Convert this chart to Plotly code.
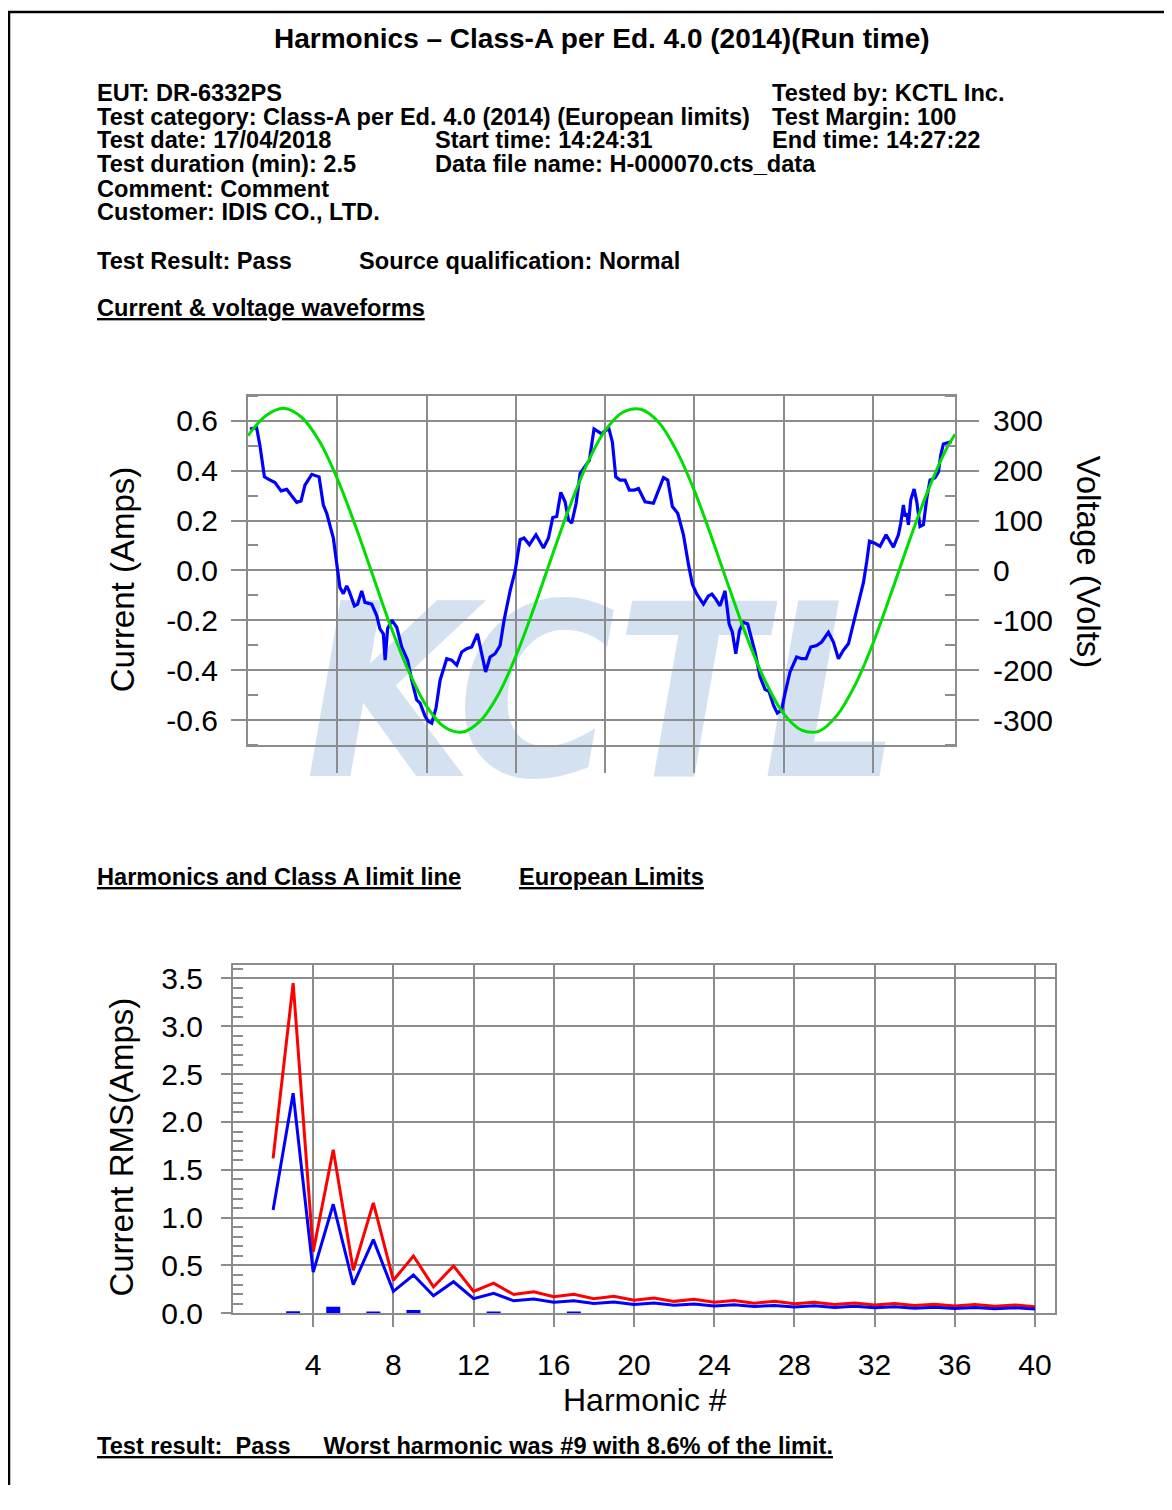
import plotly.graph_objects as go

# The page body keeps its default 8px margin, so the figure is 16px smaller
# than the window and all reference pixel positions are shifted by 8px.
PAGE_W, PAGE_H = 1172, 1510
OFF = 8
W, H = PAGE_W - 2 * OFF, PAGE_H - 2 * OFF


def px(x):
    return (x - OFF) / W


def py(y):
    return 1 - (y - OFF) / H


# ---------------- Waveform data ----------------
CURRENT_T = [0.11, 0.48, 0.67, 0.92, 1.14, 1.51, 1.85, 2.17, 2.41, 2.73, 2.97, 3.19, 3.57, 3.98,
             4.22, 4.41, 4.78, 5.02, 5.15, 5.34, 5.53, 5.66, 5.96, 6.14, 6.37, 6.55, 6.93, 7.21,
             7.39, 7.58, 7.68, 7.82, 8.05, 8.33, 8.61, 8.94, 9.17, 9.45, 9.64, 9.92, 10.1, 10.29,
             10.53, 10.76, 11.13, 11.41, 11.69, 11.97, 12.25, 12.53, 12.85, 13.09, 13.31, 13.56,
             13.84, 14.12, 14.34, 14.68, 14.96, 15.24, 15.46, 15.76, 16.13, 16.55, 16.83, 17.07,
             17.29, 17.52, 17.76, 17.95, 18.13, 18.38, 18.6, 18.92, 19.12, 19.38, 19.63, 19.81,
             20.0, 20.22, 20.41, 20.6, 20.84, 21.12, 21.36, 21.64, 21.87, 22.24, 22.71, 23.03,
             23.27, 23.51, 23.77, 24.07, 24.39, 24.67, 24.89, 25.14, 25.51, 25.79, 25.98, 26.2,
             26.44, 26.72, 26.95, 27.13, 27.32, 27.53, 27.75, 27.99, 28.22, 28.4, 28.68, 28.96,
             29.19, 29.43, 29.65, 29.89, 30.08, 30.36, 30.73, 31.01, 31.26, 31.52, 31.85, 32.13,
             32.51, 32.79, 33.07, 33.35, 33.63, 33.91, 34.19, 34.47, 34.66, 34.81, 35.07, 35.4,
             35.74, 36.15, 36.43, 36.56, 36.71, 36.8, 36.9, 36.99, 37.12, 37.31, 37.46, 37.64,
             37.83, 38.02, 38.2, 38.48, 38.67, 38.8, 38.95, 39.23, 39.42]
CURRENT_A = [0.567, 0.573, 0.50, 0.375, 0.366, 0.352, 0.319, 0.325, 0.302, 0.273, 0.278, 0.342,
             0.385, 0.375, 0.262, 0.229, 0.130, -0.003, -0.069, -0.093, -0.062, -0.082, -0.142,
             -0.135, -0.082, -0.128, -0.135, -0.181, -0.234, -0.254, -0.360, -0.234, -0.199,
             -0.228, -0.307, -0.360, -0.440, -0.519, -0.532, -0.585, -0.605, -0.612, -0.552,
             -0.44, -0.354, -0.360, -0.380, -0.327, -0.314, -0.307, -0.254, -0.334, -0.407,
             -0.347, -0.334, -0.301, -0.201, -0.082, -0.003, 0.123, 0.130, 0.103, 0.143, 0.090,
             0.130, 0.212, 0.216, 0.313, 0.275, 0.203, 0.189, 0.269, 0.388, 0.421, 0.441, 0.567,
             0.556, 0.547, 0.56, 0.567, 0.514, 0.375, 0.362, 0.362, 0.322, 0.322, 0.328, 0.275,
             0.269, 0.328, 0.372, 0.362, 0.256, 0.229, 0.143, 0.024, -0.056, -0.095, -0.135,
             -0.102, -0.095, -0.115, -0.142, -0.082, -0.215, -0.248, -0.334, -0.241, -0.208,
             -0.215, -0.281, -0.327, -0.426, -0.477, -0.486, -0.54, -0.572, -0.559, -0.493,
             -0.407, -0.347, -0.354, -0.354, -0.307, -0.301, -0.287, -0.248, -0.287, -0.354,
             -0.32, -0.294, -0.215, -0.135, -0.049, 0.037, 0.117, 0.110, 0.097, 0.143, 0.093,
             0.143, 0.189, 0.262, 0.216, 0.229, 0.183, 0.282, 0.326, 0.275, 0.176, 0.183, 0.289,
             0.362, 0.371, 0.395, 0.461, 0.507, 0.514, 0.517]

VOLT_T = [0, 1, 2, 3, 4, 5, 6, 7, 8, 9, 10, 11, 12, 13, 14, 15, 16, 17, 18, 19, 20,
          21, 22, 23, 24, 25, 26, 27, 28, 29, 30, 31, 32, 33, 34, 35, 36, 37, 38, 39, 39.6]
VOLT_V = [270, 310, 325, 307, 259, 184, 91, -11, -113, -202, -272, -314, -324, -302, -250,
          -172, -77, 26, 126, 214, 280, 317, 323, 297, 240, 160, 63, -40, -139, -224, -287,
          -320, -322, -290, -230, -147, -48, 55, 152, 235, 273]

TIME_GRID = [5, 10, 15, 20, 25, 30, 35]
CURRENT_TICKS = [-0.6, -0.4, -0.2, 0.0, 0.2, 0.4, 0.6]
CURRENT_TICK_LABELS = ["-0.6", "-0.4", "-0.2", "0.0", "0.2", "0.4", "0.6"]
CURRENT_MINOR = [-0.7, -0.5, -0.3, -0.1, 0.1, 0.3, 0.5, 0.7]
VOLT_TICKS = [-300, -200, -100, 0, 100, 200, 300]
VOLT_TICK_LABELS = ["-300", "-200", "-100", "0", "100", "200", "300"]
VOLT_MINOR = [-350, -250, -150, -50, 50, 150, 250, 350]

# ---------------- Harmonics data ----------------
HARMONICS = [2, 3, 4, 5, 6, 7, 8, 9, 10, 11, 12, 13, 14, 15, 16, 17, 18, 19, 20, 21,
             22, 23, 24, 25, 26, 27, 28, 29, 30, 31, 32, 33, 34, 35, 36, 37, 38, 39, 40]
LIMIT_150 = [1.62, 3.45, 0.645, 1.71, 0.45, 1.155, 0.345, 0.60, 0.276, 0.495, 0.23, 0.315,
             0.197, 0.225, 0.173, 0.199, 0.153, 0.178, 0.138, 0.161, 0.125, 0.147, 0.115,
             0.135, 0.106, 0.125, 0.099, 0.116, 0.092, 0.109, 0.086, 0.102, 0.081, 0.096,
             0.077, 0.091, 0.073, 0.087, 0.069]
LIMIT_100 = [1.08, 2.30, 0.43, 1.14, 0.30, 0.77, 0.23, 0.40, 0.184, 0.33, 0.153, 0.21,
             0.131, 0.15, 0.115, 0.132, 0.102, 0.118, 0.092, 0.107, 0.084, 0.098, 0.077,
             0.090, 0.071, 0.083, 0.066, 0.078, 0.061, 0.073, 0.058, 0.068, 0.054, 0.064,
             0.051, 0.061, 0.048, 0.058, 0.046]
MEAS_H = [3, 5, 7, 9, 13, 17]
MEAS_A = [0.022, 0.07, 0.02, 0.035, 0.02, 0.02]
HARM_TICKS = [4, 8, 12, 16, 20, 24, 28, 32, 36, 40]
RMS_TICKS = [0.0, 0.5, 1.0, 1.5, 2.0, 2.5, 3.0, 3.5]
RMS_TICK_LABELS = ["0.0", "0.5", "1.0", "1.5", "2.0", "2.5", "3.0", "3.5"]
RMS_MINOR = [0.1, 0.2, 0.3, 0.4, 0.6, 0.7, 0.8, 0.9, 1.1, 1.2, 1.3, 1.4, 1.6, 1.7, 1.8, 1.9,
             2.1, 2.2, 2.3, 2.4, 2.6, 2.7, 2.8, 2.9, 3.1, 3.2, 3.3, 3.4, 3.6]

FONT = "Liberation Sans, Arial, sans-serif"
GRID = "#8c8c8c"
BLUE = "#0000ff"
GREEN = "#00dd00"
RED = "#ff0000"

fig = go.Figure()

# top chart: current (left axis) and voltage (right axis)
fig.add_trace(go.Scatter(x=CURRENT_T, y=CURRENT_A, mode="lines", xaxis="x", yaxis="y",
                         line=dict(color=BLUE, width=3.2), hoverinfo="skip"))
fig.add_trace(go.Scatter(x=VOLT_T, y=VOLT_V, mode="lines", xaxis="x", yaxis="y2",
                         line=dict(color=GREEN, width=3, shape="spline"), hoverinfo="skip"))
# bottom chart: measured harmonics and limit lines
fig.add_trace(go.Bar(x=MEAS_H, y=MEAS_A, width=0.7, xaxis="x3", yaxis="y3",
                     marker=dict(color=BLUE, line=dict(width=0)), hoverinfo="skip"))
fig.add_trace(go.Scatter(x=HARMONICS, y=LIMIT_150, mode="lines", xaxis="x3", yaxis="y3",
                         line=dict(color=RED, width=3), hoverinfo="skip"))
fig.add_trace(go.Scatter(x=HARMONICS, y=LIMIT_100, mode="lines", xaxis="x3", yaxis="y3",
                         line=dict(color=BLUE, width=3), hoverinfo="skip"))

tickfont = dict(family=FONT, size=30, color="black")
axis_common = dict(showline=True, linecolor=GRID, linewidth=2, gridcolor=GRID, gridwidth=2,
                   zeroline=False, tickcolor=GRID, tickwidth=2, fixedrange=True)

fig.update_layout(
    width=W, height=H, margin=dict(l=0, r=0, t=0, b=0),
    paper_bgcolor="white", plot_bgcolor="rgba(0,0,0,0)", showlegend=False,
    font=dict(family=FONT, color="black"),
    xaxis=dict(domain=[px(248), px(955)], range=[0, 39.6], anchor="y",
               tickmode="array", tickvals=TIME_GRID, showticklabels=False,
               ticks="outside", ticklen=26, showgrid=True, mirror=True, **axis_common),
    yaxis=dict(domain=[py(752), py(398)], range=[-0.7, 0.7], anchor="x",
               tickmode="array", tickvals=CURRENT_TICKS, ticktext=CURRENT_TICK_LABELS,
               ticks="outside", ticklen=15, ticklabelstandoff=7, tickfont=tickfont,
               showgrid=True, mirror=True,
               minor=dict(tickmode="array", tickvals=CURRENT_MINOR, ticks="inside",
                          ticklen=10, tickcolor=GRID, tickwidth=2, showgrid=False),
               **axis_common),
    yaxis2=dict(overlaying="y", side="right", anchor="x", range=[-350, 350],
                tickmode="array", tickvals=VOLT_TICKS, ticktext=VOLT_TICK_LABELS,
                ticks="outside", ticklen=22, ticklabelstandoff=8, tickfont=tickfont,
                showgrid=False,
                minor=dict(tickmode="array", tickvals=VOLT_MINOR, ticks="inside",
                           ticklen=10, tickcolor=GRID, tickwidth=2, showgrid=False),
                **axis_common),
    xaxis3=dict(domain=[px(233), px(1055)], range=[0, 41], anchor="y3",
                tickmode="array", tickvals=HARM_TICKS, ticks="outside", ticklen=12,
                ticklabelstandoff=12, tickfont=tickfont, showgrid=True, mirror=True,
                **axis_common),
    yaxis3=dict(domain=[py(1328), py(975)], range=[0, 3.64], anchor="x3",
                tickmode="array", tickvals=RMS_TICKS, ticktext=RMS_TICK_LABELS,
                ticks="outside", ticklen=10, ticklabelstandoff=12, tickfont=tickfont,
                showgrid=True, mirror=True,
                minor=dict(tickmode="array", tickvals=RMS_MINOR, ticks="inside",
                           ticklen=10, tickcolor=GRID, tickwidth=2, showgrid=False),
                **axis_common),
)

# watermark (behind grid and traces) and page border
fig.add_shape(type="rect", xref="paper", yref="paper", x0=px(340), x1=px(866),
              y0=py(787), y1=py(577), line=dict(width=0), fillcolor="rgba(0,0,0,0)",
              layer="below",
              label=dict(text="KCTL", textposition="middle center",
                         font=dict(size=240, color="#d3e1f0", weight="bold", style="italic",
                                   family="Liberation Sans Narrow, DejaVu Sans Condensed, sans-serif")))
fig.add_shape(type="line", xref="paper", yref="paper", x0=px(9), x1=px(9), y0=py(9), y1=0,
              line=dict(color="black", width=2.5))
fig.add_shape(type="line", xref="paper", yref="paper", x0=px(8), x1=1, y0=py(9), y1=py(9),
              line=dict(color="black", width=2.5))


def note(text, x, y, size=23.6, bold=True, xanchor="left", angle=0):
    t = "<b>" + text + "</b>" if bold else text
    fig.add_annotation(text=t, x=px(x), y=py(y), xref="paper", yref="paper",
                       xanchor=xanchor, yanchor="middle", showarrow=False, textangle=angle,
                       font=dict(family=FONT, size=size, color="black"))


note("Harmonics \u2013 Class-A per Ed. 4.0 (2014)(Run time)", 602, 36, size=28, xanchor="center")
note("EUT: DR-6332PS", 95, 91)
note("Test category: Class-A per Ed. 4.0 (2014) (European limits)", 95, 115)
note("Test date: 17/04/2018", 95, 139)
note("Test duration (min): 2.5", 95, 163)
note("Comment: Comment", 95, 188)
note("Customer: IDIS CO., LTD.", 95, 212)
note("Start time: 14:24:31", 433, 139)
note("Data file name: H-000070.cts_data", 433, 163)
note("Tested by: KCTL Inc.", 770, 91)
note("Test Margin: 100", 770, 115)
note("End time: 14:27:22", 770, 139)
note("Test Result: Pass", 95, 261)
note("Source qualification: Normal", 357, 261)
note("<u>Current &amp; voltage waveforms</u>", 95, 309)
note("<u>Harmonics and Class A limit line</u>", 95, 886)
note("<u>European Limits</u>", 517, 886)
note("<u>Test result:\u00a0\u00a0Pass\u00a0\u00a0\u00a0\u00a0\u00a0Worst harmonic was #9 with 8.6% of the limit.</u>",
     95, 1462)

# axis titles
note("Current (Amps)", 122, 584, size=33, bold=False, xanchor="center", angle=-90)
note("Voltage (Volts)", 1088, 566, size=33, bold=False, xanchor="center", angle=90)
note("Current RMS(Amps)", 122, 1160, size=33, bold=False, xanchor="center", angle=-90)
note("Harmonic #", 645, 1416, size=32, bold=False, xanchor="center")

fig.write_html("out.html", config={"displayModeBar": False})
